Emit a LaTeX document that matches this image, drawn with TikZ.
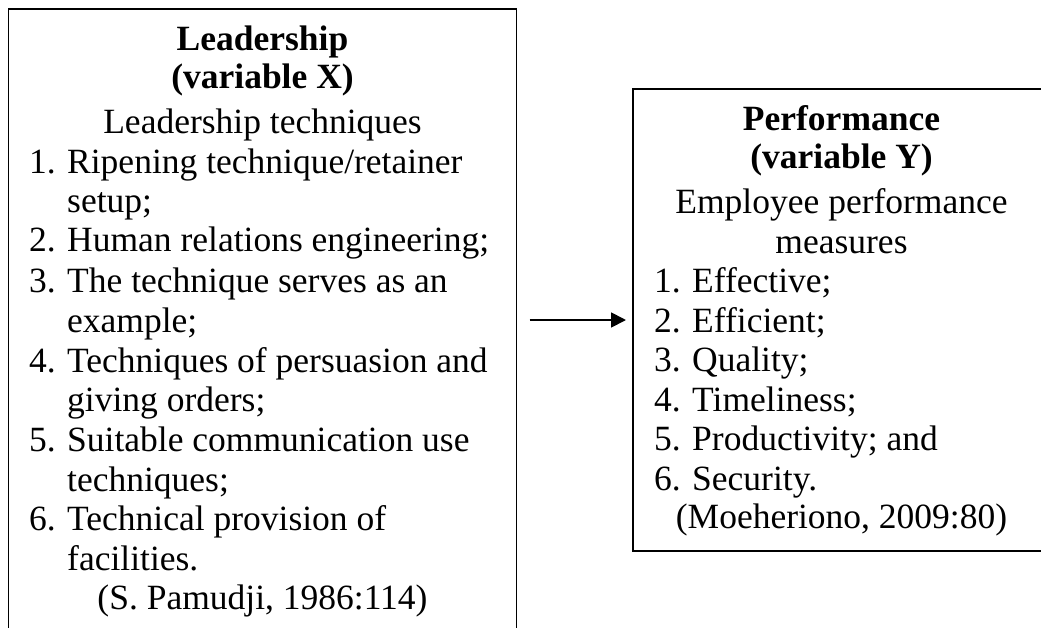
\documentclass[tikz,border=0pt]{standalone}
\usepackage{fontspec}
\setmainfont{Liberation Serif}
\usetikzlibrary{arrows.meta}
\newcommand\figfont{\fontsize{35.5}{40}\selectfont}
\begin{document}
\begin{tikzpicture}[x=1pt,y=-1pt,
  boxframe/.style={draw, line width=1.8pt, inner sep=0pt, outer sep=0pt},
  txtline/.style={inner sep=0pt, anchor=base, font=\figfont},
  titleline/.style={txtline, font=\figfont\bfseries},
  numtxt/.style={txtline, anchor=base west},
  itemtxt/.style={txtline, anchor=base west},
  link/.style={line width=1.8pt, -{Triangle[length=15pt,width=15pt]},
    shorten <=13pt, shorten >=7pt}]
\useasboundingbox (0,0) rectangle (1041,627);
\clip (0,0) rectangle (1041,627);
\fill[white] (0,0) rectangle (1041,627);

% the two variable boxes (both run past the edge of the page)
\node[boxframe, minimum width=508pt, minimum height=671pt] (L) at (262.5,344.5) {};
\node[boxframe, minimum width=467pt, minimum height=462pt] (R) at (866.5,320) {};

% leadership box
\node[titleline] (l1) at (262.5,50) {Leadership};
\node[titleline] (l2) at (262.5,88) {(variable X)};
\node[txtline]   (l3) at (262.5,133) {Leadership techniques};
\node[numtxt]  (ln1) at (29,173) {1.};
\node[itemtxt] (li1) at (67,173) {Ripening technique/retainer};
\node[itemtxt] (li1b) at (67,212) {setup;};
\node[numtxt]  (ln2) at (29,251) {2.};
\node[itemtxt] (li2) at (67,251) {Human relations engineering;};
\node[numtxt]  (ln3) at (29,292) {3.};
\node[itemtxt] (li3) at (67,292) {The technique serves as an};
\node[itemtxt] (li3b) at (67,332) {example;};
\node[numtxt]  (ln4) at (29,372) {4.};
\node[itemtxt] (li4) at (67,372) {Techniques of persuasion and};
\node[itemtxt] (li4b) at (67,411) {giving orders;};
\node[numtxt]  (ln5) at (29,451) {5.};
\node[itemtxt] (li5) at (67,451) {Suitable communication use};
\node[itemtxt] (li5b) at (67,491) {techniques;};
\node[numtxt]  (ln6) at (29,530) {6.};
\node[itemtxt] (li6) at (67,530) {Technical provision of};
\node[itemtxt] (li6b) at (67,570) {facilities.};
\node[txtline] (lsrc) at (262.5,609) {(S. Pamudji, 1986:114)};

% performance box
\node[titleline] (r1) at (841.5,130) {Performance};
\node[titleline] (r2) at (841.5,168) {(variable Y)};
\node[txtline]   (r3) at (841.5,213) {Employee performance};
\node[txtline]   (r4) at (841.5,253) {measures};
\node[numtxt]  (rn1) at (654,292) {1.};
\node[itemtxt] (ri1) at (692,292) {Effective;};
\node[numtxt]  (rn2) at (654,332) {2.};
\node[itemtxt] (ri2) at (692,332) {Efficient;};
\node[numtxt]  (rn3) at (654,371) {3.};
\node[itemtxt] (ri3) at (692,371) {Quality;};
\node[numtxt]  (rn4) at (654,411) {4.};
\node[itemtxt] (ri4) at (692,411) {Timeliness;};
\node[numtxt]  (rn5) at (654,450) {5.};
\node[itemtxt] (ri5) at (692,450) {Productivity; and};
\node[numtxt]  (rn6) at (654,490) {6.};
\node[itemtxt] (ri6) at (692,490) {Security.};
\node[txtline] (rsrc) at (841.5,528) {(Moeheriono, 2009:80)};

% influence of X on Y
\draw[link] (L.east |- R.west) -- (R.west);
\end{tikzpicture}
\end{document}
